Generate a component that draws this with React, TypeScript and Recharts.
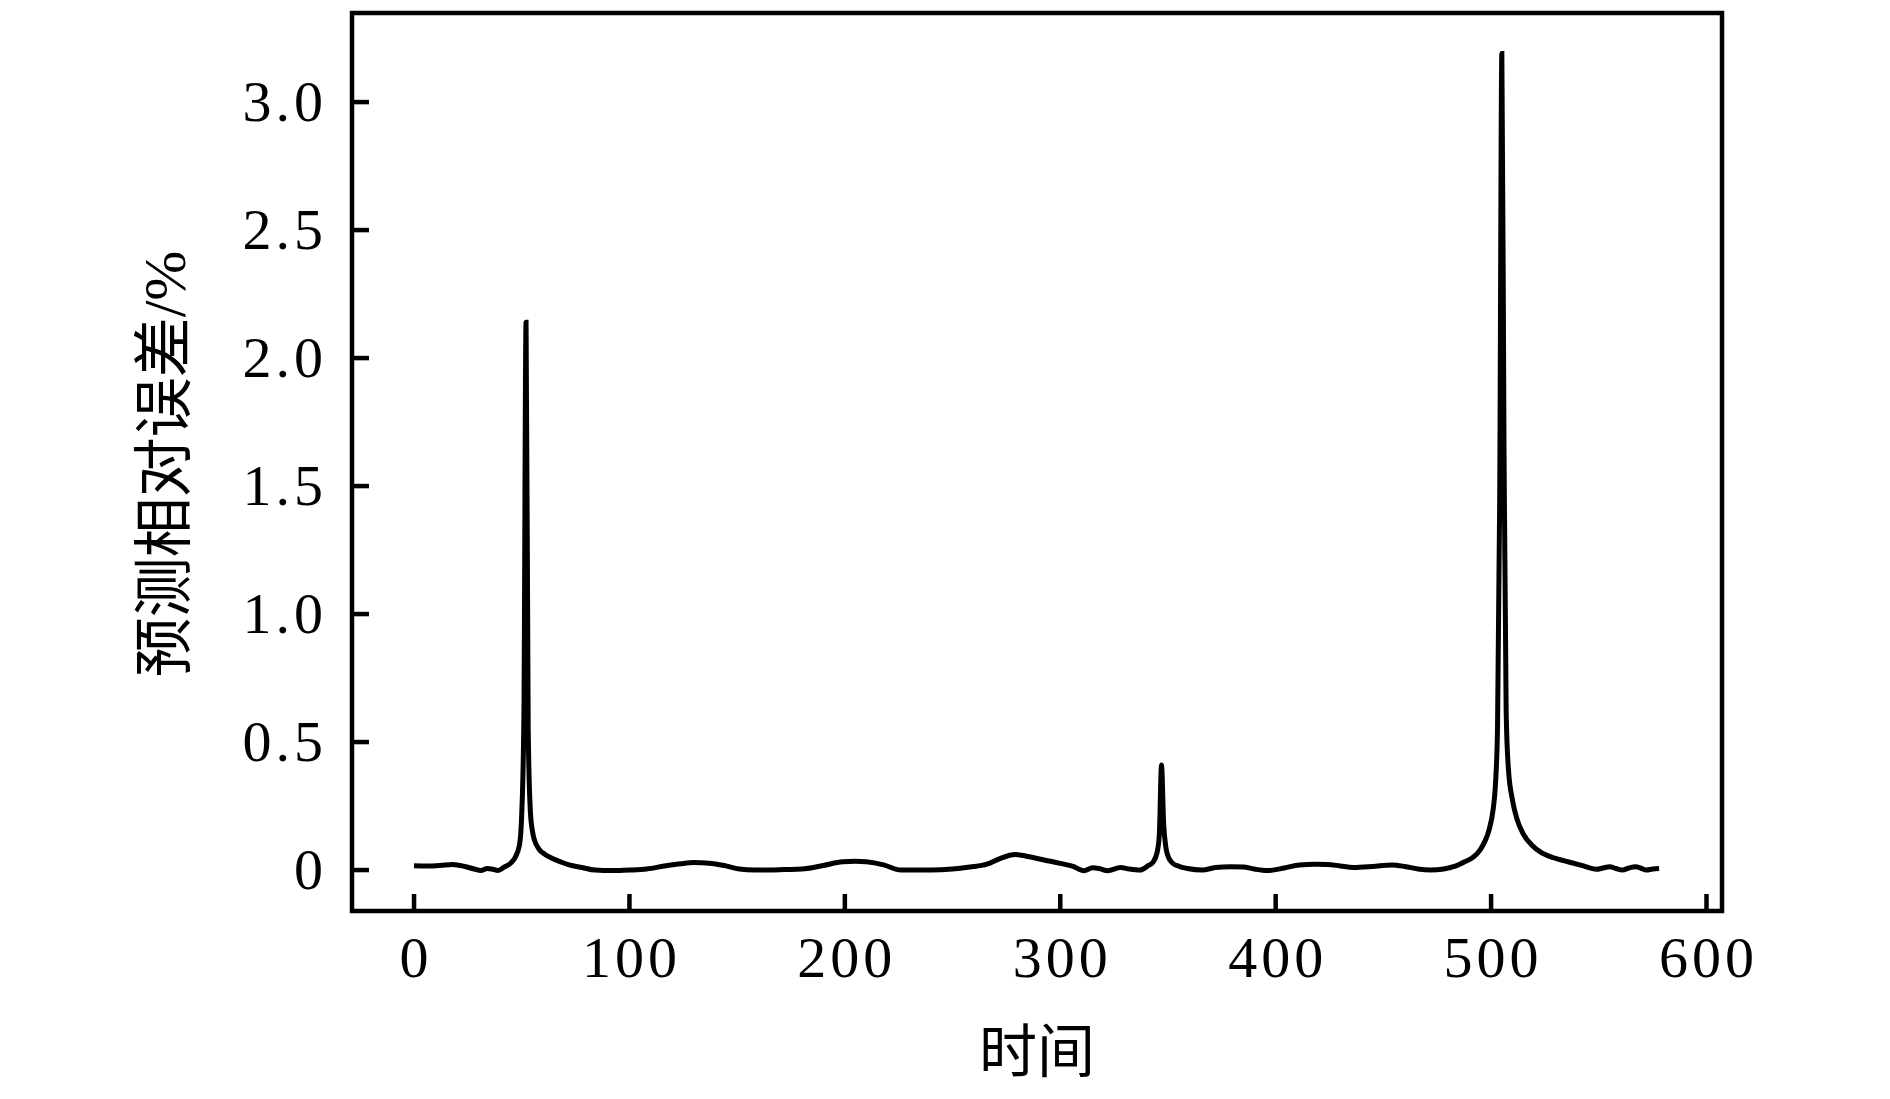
import { LineChart, Line, XAxis, YAxis, ReferenceArea, Label } from "recharts";

// time step (x) and predicted relative error in % (y)
const timeSteps = [
  0, 6, 12, 18, 24, 28, 31, 34, 36, 39, 42, 45, 47, 49, 50, 51, 52, 53, 54, 55,
  56, 58, 61, 64, 68, 72, 78, 84, 92, 100, 108, 117, 124, 130, 137, 144, 151,
  158, 165, 172, 180, 190, 199, 205, 210, 218, 226, 232, 240, 250, 258, 266,
  272, 279, 285, 292, 300, 306, 311, 315, 318, 322, 328, 332, 337, 341, 343,
  345, 346, 347, 348, 349, 350, 352, 355, 359, 366, 372, 379, 385, 390, 396,
  404, 411, 418, 424, 430, 436, 445, 454, 460, 466, 472, 478, 483, 488, 492,
  495, 497, 499, 501, 502, 503, 504, 505, 506, 507, 508, 510, 512, 515, 519,
  523, 529, 535, 542, 549, 552, 555, 558, 561, 564, 567, 570, 572, 575, 578,
];
const relErrors = [
  0.017, 0.016, 0.018, 0.022, 0.013, 0.004, -0.002, 0.006, 0.004, -0.002,
  0.012, 0.028, 0.05, 0.1, 0.22, 0.6, 2.14, 0.55, 0.23, 0.15, 0.115, 0.082,
  0.06, 0.046, 0.032, 0.02, 0.01, 0.0, -0.002, 0.0, 0.004, 0.017, 0.025,
  0.029, 0.027, 0.018, 0.004, 0.0, 0.0, 0.002, 0.004, 0.018, 0.032, 0.034,
  0.032, 0.02, 0.0, 0.0, 0.0, 0.004, 0.012, 0.023, 0.045, 0.061, 0.053, 0.04,
  0.026, 0.014, -0.003, 0.009, 0.006, -0.003, 0.01, 0.004, 0.0, 0.018, 0.03,
  0.07, 0.14, 0.41, 0.18, 0.09, 0.055, 0.028, 0.015, 0.006, 0.0, 0.01, 0.013,
  0.012, 0.004, -0.002, 0.008, 0.02, 0.023, 0.022, 0.016, 0.01, 0.014, 0.02,
  0.014, 0.004, 0.0, 0.004, 0.014, 0.033, 0.052, 0.08, 0.11, 0.155, 0.24, 0.33,
  0.56, 1.45, 3.19, 1.65, 0.62, 0.4, 0.27, 0.2, 0.14, 0.097, 0.07, 0.048,
  0.034, 0.018, 0.003, 0.008, 0.013, 0.006, 0.0, 0.008, 0.013, 0.006, 0.0,
  0.004, 0.006,
];

const xTicks = [0, 100, 200, 300, 400, 500, 600];
const yTicks = [0, 0.5, 1.0, 1.5, 2.0, 2.5, 3.0];

const xTitle = "时间";
const yTitle = "预测相对误差/%";

const data = timeSteps.map((t, i) => ({ t, err: relErrors[i] }));

const SERIF = "'Liberation Serif', 'Times New Roman', serif";
const MIXED = "'Liberation Serif', 'Noto Sans CJK SC', serif";

// plot box (pixels)
const W = 1890;
const H = 1099;
const LEFT = 352;
const RIGHT = 1722;
const TOP = 13;
const BOTTOM = 911;
const TICK_LEN = 17;
const FRAME_W = 4.5;

const X_DOMAIN: [number, number] = [-28.8, 607.2];
const Y_DOMAIN: [number, number] = [-0.16, 3.348];

const fmtY = (v: number) => (v === 0 ? "0" : v.toFixed(1));

function XTick(props: any) {
  const { x, payload } = props;
  return (
    <g>
      <line x1={x} x2={x} y1={BOTTOM} y2={BOTTOM - TICK_LEN} stroke="#000" strokeWidth={FRAME_W} />
      <text
        x={x + 2}
        y={977}
        textAnchor="middle"
        fontFamily={SERIF}
        fontSize={58}
        letterSpacing={4}
        fill="#000"
      >
        {payload.value}
      </text>
    </g>
  );
}

function YTick(props: any) {
  const { y, payload } = props;
  return (
    <g>
      <line x1={LEFT} x2={LEFT + TICK_LEN} y1={y} y2={y} stroke="#000" strokeWidth={FRAME_W} />
      <text
        x={327}
        y={y + 19}
        textAnchor="end"
        fontFamily={SERIF}
        fontSize={58}
        letterSpacing={4}
        fill="#000"
      >
        {fmtY(payload.value)}
      </text>
    </g>
  );
}

export default function App() {
  return (
    <div style={{ position: "absolute", left: 0, top: 0, width: W, height: H, background: "#fff" }}>
      <LineChart
        width={W}
        height={H}
        data={data}
        margin={{ top: TOP, right: W - RIGHT, bottom: 0, left: 0 }}
      >
        <XAxis
          dataKey="t"
          type="number"
          domain={X_DOMAIN}
          ticks={xTicks}
          height={H - BOTTOM}
          axisLine={false}
          tickLine={false}
          tick={XTick}
          allowDataOverflow
        >
          <Label
            content={() => (
              <text x={(LEFT + RIGHT) / 2} y={1072} textAnchor="middle" fontFamily={MIXED} fontSize={58} fill="#000">
                {xTitle}
              </text>
            )}
          />
        </XAxis>
        <YAxis
          type="number"
          domain={Y_DOMAIN}
          ticks={yTicks}
          width={LEFT}
          axisLine={false}
          tickLine={false}
          tick={YTick}
          allowDataOverflow
        >
          <Label
            content={() => (
              <text
                x={185}
                y={464}
                transform="rotate(-90 185 464)"
                textAnchor="middle"
                fontFamily={MIXED}
                fontSize={60}
                fill="#000"
              >
                {yTitle}
              </text>
            )}
          />
        </YAxis>
        <ReferenceArea
          x1={X_DOMAIN[0]}
          x2={X_DOMAIN[1]}
          y1={Y_DOMAIN[0]}
          y2={Y_DOMAIN[1]}
          fill="none"
          stroke="#000"
          strokeWidth={FRAME_W}
        />
        <Line
          type="monotone"
          dataKey="err"
          stroke="#000"
          strokeWidth={5}
          dot={false}
          activeDot={false}
          isAnimationActive={false}
        />
      </LineChart>
    </div>
  );
}
